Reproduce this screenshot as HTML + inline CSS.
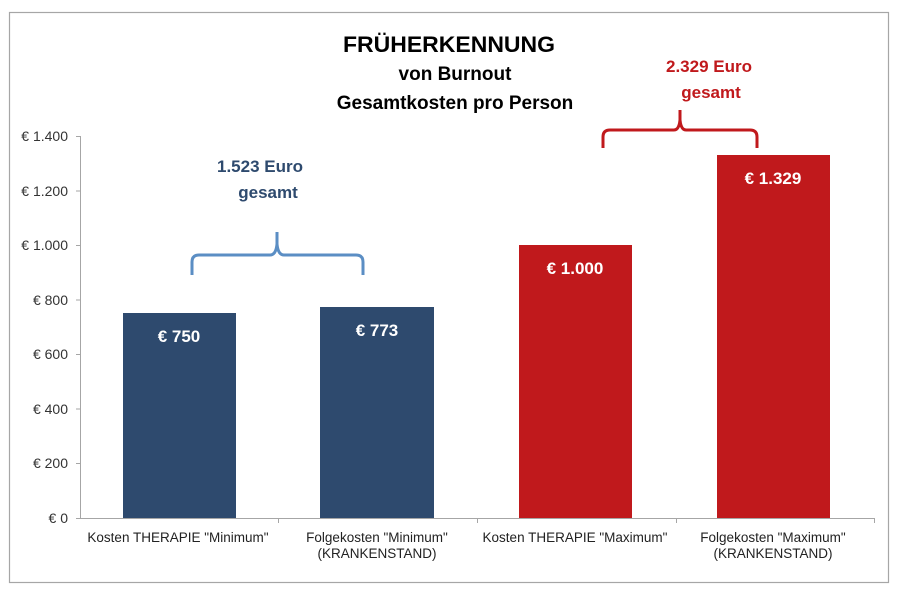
<!DOCTYPE html>
<html><head><meta charset="utf-8"><style>
html,body{margin:0;padding:0;background:#fff;}
svg{display:block;font-family:"Liberation Sans",sans-serif;}
</style></head><body>
<svg width="900" height="593" viewBox="0 0 900 593" xmlns="http://www.w3.org/2000/svg">
<rect x="9.5" y="12.5" width="879" height="570" fill="#fff" stroke="#a6a6a6" stroke-width="1.2"/>
<g font-weight="bold" fill="#000" text-anchor="middle">
<text x="449" y="52" font-size="22" textLength="212" lengthAdjust="spacingAndGlyphs">FRÜHERKENNUNG</text>
<text x="455" y="80" font-size="19">von Burnout</text>
<text x="455" y="109" font-size="19">Gesamtkosten pro Person</text>
</g>
<g stroke="#a6a6a6" stroke-width="1">
<line x1="80.5" y1="136" x2="80.5" y2="518"/>
<line x1="80" y1="518.5" x2="874" y2="518.5"/>
<line x1="76" y1="136.5" x2="80" y2="136.5"/>
<line x1="76" y1="191" x2="80" y2="191"/>
<line x1="76" y1="245.5" x2="80" y2="245.5"/>
<line x1="76" y1="300" x2="80" y2="300"/>
<line x1="76" y1="354.5" x2="80" y2="354.5"/>
<line x1="76" y1="409" x2="80" y2="409"/>
<line x1="76" y1="463.5" x2="80" y2="463.5"/>
<line x1="76" y1="518.5" x2="80" y2="518.5"/>
<line x1="278.5" y1="518" x2="278.5" y2="523"/>
<line x1="477.5" y1="518" x2="477.5" y2="523"/>
<line x1="676.5" y1="518" x2="676.5" y2="523"/>
<line x1="874.5" y1="518" x2="874.5" y2="523"/>
</g>
<g font-size="14" fill="#333" text-anchor="end">
<text x="68" y="141">€ 1.400</text>
<text x="68" y="196">€ 1.200</text>
<text x="68" y="250">€ 1.000</text>
<text x="68" y="305">€ 800</text>
<text x="68" y="359">€ 600</text>
<text x="68" y="414">€ 400</text>
<text x="68" y="468">€ 200</text>
<text x="68" y="523">€ 0</text>
</g>
<rect x="123" y="313" width="113" height="205" fill="#2e4a6e"/>
<rect x="320" y="307" width="114" height="211" fill="#2e4a6e"/>
<rect x="519" y="245" width="113" height="273" fill="#c0191c"/>
<rect x="717" y="155" width="113" height="363" fill="#c0191c"/>
<g font-size="17" font-weight="bold" fill="#fff" text-anchor="middle">
<text x="179" y="342">€ 750</text>
<text x="377" y="336">€ 773</text>
<text x="575" y="274">€ 1.000</text>
<text x="773" y="184">€ 1.329</text>
</g>
<g font-size="13.5" fill="#222" text-anchor="middle">
<text x="178" y="542">Kosten THERAPIE "Minimum"</text>
<text x="377" y="542">Folgekosten "Minimum"</text>
<text x="377" y="558">(KRANKENSTAND)</text>
<text x="575" y="542">Kosten THERAPIE "Maximum"</text>
<text x="773" y="542">Folgekosten "Maximum"</text>
<text x="773" y="558">(KRANKENSTAND)</text>
</g>
<path d="M192,275 V262 Q192,255 199,255 H270 Q276,255 277,244 V232 M277,244 Q278,255 284,255 H356 Q363,255 363,262 V275" fill="none" stroke="#5b8ec4" stroke-width="3"/>
<g font-size="17" font-weight="bold" fill="#2e4a6e" text-anchor="middle">
<text x="260" y="172">1.523 Euro</text>
<text x="268" y="198">gesamt</text>
</g>
<path d="M603,148 V137 Q603,130 610,130 H674 Q679,130 680,120 V110 M680,120 Q681,130 686,130 H750 Q757,130 757,137 V148" fill="none" stroke="#c0191c" stroke-width="3"/>
<g font-size="17" font-weight="bold" fill="#c0191c" text-anchor="middle">
<text x="709" y="72">2.329 Euro</text>
<text x="711" y="98">gesamt</text>
</g>
</svg>
</body></html>
